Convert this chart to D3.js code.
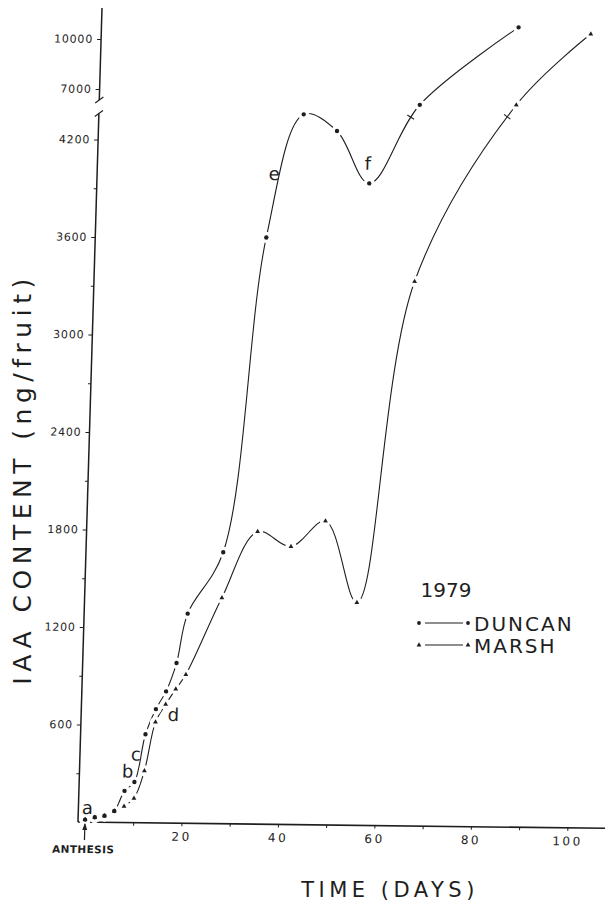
<!DOCTYPE html>
<html><head><meta charset="utf-8">
<script src="https://cdn.jsdelivr.net/npm/d3@7"></script>
<style>
html,body{margin:0;padding:0;background:#fff;}
svg{display:block;}
text{font-family:"DejaVu Sans",sans-serif;fill:#1e1e1e;}
</style></head><body>
<script>
// IAA content per fruit (ng) over days after anthesis, 1979 season
const duncanDays = [0, 2, 4, 6, 8, 10, 12, 14, 16, 18, 20, 27, 34, 41, 48, 55, 65, 85];
const duncanIAA  = [15, 30, 40, 70, 195, 250, 545, 700, 810, 985, 1290, 1670, 3610, 4370, 4270, 3950, 6280, 11000];
const marshDays  = [0, 2, 4, 6, 8, 10, 12, 14, 16, 18, 20, 27, 34, 41, 48, 55, 65, 85, 100];
const marshIAA   = [15, 30, 40, 70, 100, 150, 320, 620, 730, 825, 915, 1390, 1800, 1710, 1870, 1370, 3350, 6340, 10650];

const yLabelTicks = [600, 1200, 1800, 2400, 3000, 3600, 4200, 7000, 10000];
const yMinorTicks = [300, 900, 1500, 2100, 2700, 3300, 3900];
const xLabelTicks = [20, 40, 60, 80, 100];
const xMinorTicks = [10, 30, 50, 70, 90];
const seriesNames = ["DUNCAN", "MARSH"];
const yearLabel = "1979";
const notes = ["a", "b", "c", "d", "e", "f"];

const W = 605, H = 911;
const plotW = 527, plotH = 814;
const lowerTop = 4360, upperBottom = 6340, breakLow = 4400, breakHigh = 6100, yMax = 11860;

const svg = d3.select("body").append("svg").attr("width", W).attr("height", H);

const x = d3.scaleLinear().domain([-1.45, 107.8]).range([0, plotW]);
// broken value axis: linear below the break, compressed linear above it
const y = d3.scaleLinear()
  .domain([0, breakLow, breakHigh, yMax])
  .range([plotH, plotH - 715, plotH - 718, 0]);

// the printed figure sits slightly askew on the page
const g = svg.append("g").attr("transform", "matrix(1,0.012,-0.0295,1,102,8)");

const ink = "#1e1e1e";

// ---- value axis (two pieces with break slashes)
g.append("line").attr("x1", 0).attr("x2", 0).attr("y1", y(0)).attr("y2", y(lowerTop))
  .attr("stroke", ink).attr("stroke-width", 1.5);
g.append("line").attr("x1", 0).attr("x2", 0).attr("y1", y(upperBottom)).attr("y2", y(yMax))
  .attr("stroke", ink).attr("stroke-width", 1.5);
[lowerTop, upperBottom].forEach(v => {
  g.append("line").attr("x1", -4).attr("x2", 4)
    .attr("y1", y(v) + 3).attr("y2", y(v) - 3)
    .attr("stroke", ink).attr("stroke-width", 1.2);
});

const yAxis = d3.axisLeft(y).tickValues(yLabelTicks).tickSize(4).tickPadding(4)
  .tickFormat(d => String(d));
const ya = g.append("g").call(yAxis);
ya.select(".domain").remove();
ya.selectAll("line").attr("stroke", ink).attr("stroke-width", 1);
ya.selectAll("text").attr("font-size", 11).attr("letter-spacing", 0.8).attr("fill", ink);

const yMinor = d3.axisLeft(y).tickValues(yMinorTicks).tickSize(3).tickFormat("");
const ym = g.append("g").call(yMinor);
ym.select(".domain").remove();
ym.selectAll("line").attr("stroke", ink).attr("stroke-width", 1);

// ---- time axis
const xa = g.append("g").attr("transform", `translate(0,${plotH})`)
  .call(d3.axisBottom(x).tickValues(xLabelTicks).tickSize(3).tickPadding(6));
xa.select(".domain").attr("d", `M0,0H${plotW}`).attr("stroke", ink).attr("stroke-width", 1.6);
xa.selectAll("line").attr("stroke", ink);
xa.selectAll("text").attr("font-size", 12).attr("letter-spacing", 2.5).attr("fill", ink);
const xm = g.append("g").attr("transform", `translate(0,${plotH})`)
  .call(d3.axisBottom(x).tickValues(xMinorTicks).tickSize(3).tickFormat(""));
xm.select(".domain").remove();
xm.selectAll("line").attr("stroke", ink);

// ---- series
const duncan = duncanDays.map((d, i) => ({day: d, v: duncanIAA[i]}));
const marsh = marshDays.map((d, i) => ({day: d, v: marshIAA[i]}));

const line = d3.line().x(d => x(d.day)).y(d => y(d.v)).curve(d3.curveCatmullRom.alpha(0.5));

function drawSeries(data) {
  return g.append("path").datum(data).attr("d", line)
    .attr("fill", "none").attr("stroke", ink).attr("stroke-width", 1.1);
}
const pD = drawSeries(duncan);
const pM = drawSeries(marsh);

// break ticks on each curve just below its first point past the axis break
function breakMark(pathSel, data) {
  const node = pathSel.node();
  const total = node.getTotalLength();
  const first = data.find(d => d.v >= breakHigh);
  const tx = x(first.day), ty = y(first.v);
  let best = 0, bestD = Infinity;
  for (let L = 0; L <= total; L += 0.5) {
    const p = node.getPointAtLength(L);
    const dd = (p.x - tx) ** 2 + (p.y - ty) ** 2;
    if (dd < bestD) { bestD = dd; best = L; }
  }
  const L = best - 15;
  const p = node.getPointAtLength(L);
  const a = node.getPointAtLength(L - 1), b = node.getPointAtLength(L + 1);
  const dx = b.x - a.x, dy = b.y - a.y, n = Math.hypot(dx, dy);
  const nx = -dy / n, ny = dx / n;
  g.append("line").attr("x1", p.x - nx * 4).attr("y1", p.y - ny * 4)
    .attr("x2", p.x + nx * 4).attr("y2", p.y + ny * 4)
    .attr("stroke", ink).attr("stroke-width", 1.1);
}
breakMark(pD, duncan);
breakMark(pM, marsh);

// white gaps around the plotted points
g.append("g").selectAll("circle").data(duncan.concat(marsh)).join("circle")
  .attr("cx", d => x(d.day)).attr("cy", d => y(d.v)).attr("r", 5.6).attr("fill", "#fff");

const tri = d3.symbol().type(d3.symbolTriangle).size(10);
g.append("g").selectAll("path").data(marsh).join("path")
  .attr("d", tri).attr("transform", d => `translate(${x(d.day)},${y(d.v)})`).attr("fill", ink);
g.append("g").selectAll("circle").data(duncan).join("circle")
  .attr("cx", d => x(d.day)).attr("cy", d => y(d.v)).attr("r", 2.2).attr("fill", ink);

// ---- letters marking stages along the curves
function note(txt, px, py) {
  g.append("text").attr("x", px).attr("y", py).attr("text-anchor", "middle")
    .attr("dominant-baseline", "central").attr("font-size", 18).attr("fill", ink).text(txt);
}
note(notes[0], x(duncan[0].day) + 2, y(duncan[0].v) - 12);
note(notes[1], x(duncan[5].day) - 7, y(duncan[5].v) - 11);
note(notes[2], x(duncan[6].day) - 9, y(duncan[6].v) + 20);
note(notes[3], x(marsh[8].day) + 8, y(marsh[8].v) + 10);
note(notes[4], x(duncan[12].day) + 6, y(duncan[12].v) - 64);
note(notes[5], x(duncan[15].day) - 2, y(duncan[15].v) - 20);

// ---- anthesis marker
const ax0 = x(0);
g.append("line").attr("x1", ax0).attr("x2", ax0).attr("y1", plotH + 18).attr("y2", plotH + 2)
  .attr("stroke", ink).attr("stroke-width", 1.2);
g.append("path").attr("d", `M${ax0 - 2.5},${plotH + 8}L${ax0},${plotH + 1}L${ax0 + 2.5},${plotH + 8}Z`).attr("fill", ink);
g.append("text").attr("x", ax0 - 1).attr("y", plotH + 31).attr("text-anchor", "middle")
  .attr("font-family", "DejaVu Sans Condensed").attr("font-weight", "bold")
  .attr("font-size", 10.5).attr("letter-spacing", 0.4).attr("fill", ink).text("ANTHESIS");

// ---- axis titles
svg.append("text").attr("transform", "translate(31,479) rotate(-90)")
  .attr("text-anchor", "middle").attr("font-size", 25).attr("letter-spacing", 5.5)
  .text("IAA  CONTENT  (ng/fruit)");
svg.append("text").attr("x", 390).attr("y", 897).attr("text-anchor", "middle")
  .attr("font-size", 21).attr("letter-spacing", 4.5).text("TIME  (DAYS)");

// ---- legend
const lg = svg.append("g");
lg.append("text").attr("x", 446).attr("y", 597).attr("text-anchor", "middle")
  .attr("font-size", 20).text(yearLabel);
[0, 1].forEach(i => {
  const cy = 623 + i * 22;
  lg.append("line").attr("x1", 425).attr("x2", 463).attr("y1", cy).attr("y2", cy)
    .attr("stroke", ink).attr("stroke-width", 1.1);
  [419, 468].forEach(cx => {
    if (i === 0) lg.append("circle").attr("cx", cx).attr("cy", cy).attr("r", 1.9).attr("fill", ink);
    else lg.append("path").attr("d", tri).attr("transform", `translate(${cx},${cy})`).attr("fill", ink);
  });
  lg.append("text").attr("x", 474).attr("y", cy + 8).attr("font-size", 20)
    .attr("letter-spacing", 2).text(seriesNames[i]);
});
</script>
</body></html>
